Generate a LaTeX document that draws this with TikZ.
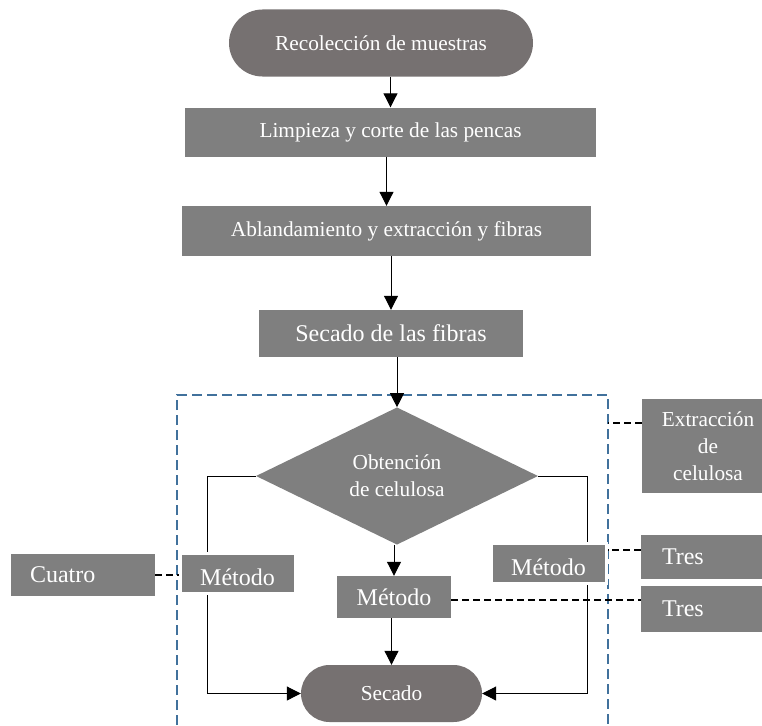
\documentclass[tikz,border=0pt]{standalone}
\usepackage{fontspec}
\setmainfont{Liberation Serif}
\usetikzlibrary{shapes.geometric,shapes.misc,arrows.meta,backgrounds}
\definecolor{boxgray}{HTML}{7F7F7F}
\definecolor{termgray}{HTML}{767171}
\definecolor{frameblue}{HTML}{41719C}
\newcommand\txtS{\fontsize{21.3}{27}\selectfont}
\newcommand\txtL{\fontsize{24}{28}\selectfont}
\tikzset{
  box/.style={rectangle,fill=boxgray,text=white,inner sep=0pt,font=\txtS},
  term/.style={rounded rectangle,fill=termgray,text=white,inner sep=0pt,font=\txtS},
  arr/.style={-{Triangle[length=14pt,width=14pt]},line width=1pt},
  dsh/.style={dash pattern=on 7pt off 4pt,line width=2pt},
}

\begin{document}
\begin{tikzpicture}[x=1pt,y=-1pt]
      \useasboundingbox (0,0) rectangle (762,725);
      \def \Steps {
        lim/390.5/132/411/49/Limpieza y corte de las pencas,
        abl/386.5/231/409/50/Ablandamiento y extracción y fibras}
      \def \Labels {
        fib/391/333.5/264/47/Secado de las fibras,
        met2/394/597/114/42/Método}
      \def \Sides {
        met1/237.5/573,
        met3/548.5/563}
      \def \Notes {
        cua/83/575/144/42/106/Cuatro,
        tres1/707.5/557/133/44/91/Tres,
        tres2/707.5/609/133/46/91/Tres}
      \def \Edges {
        rec/lim,
        lim/abl,
        abl/fib,
        fib/dia,
        dia/met2,
        met2/sec}

      \node[term,minimum width=304,minimum height=67] (rec) at (381,43) {Recolección de muestras};
      \node[term,minimum width=181,minimum height=57] (sec) at (391.5,693.5) {Secado};
      \node[diamond,fill=boxgray,text=white,inner sep=0pt,font=\txtS,align=center,
        minimum width=282,minimum height=134] (dia) at (397,476) {Obtención\\de celulosa};
      \node[box,align=center,minimum width=132,minimum height=94] (ext) at (708,446)
        {Extracción\\de\\celulosa};

      \foreach \id / \x / \y / \w / \h / \t in \Steps {
        \node[box,minimum width=\w,minimum height=\h] (\id) at (\x,\y) {\t};
      }
      \foreach \id / \x / \y / \w / \h / \t in \Labels {
        \node[box,font=\txtL,minimum width=\w,minimum height=\h] (\id) at (\x,\y) {\t};
      }
      \foreach \id / \x / \y in \Sides {
        \node[box,font=\txtL,draw=white,line width=3pt,minimum width=115,minimum height=40,
          text height=24pt,text depth=0pt] (\id) at (\x,\y) {Método};
      }
      \foreach \id / \x / \y / \w / \h / \tw / \t in \Notes {
        \node[box,font=\txtL,align=left,text width=\tw,minimum width=\w,minimum height=\h]
          (\id) at (\x,\y) {\t};
      }

      % frame and side branches
      \coordinate (fr1) at (177,725);
      \coordinate (fr2) at (177,395);
      \coordinate (fr3) at (608,395);
      \coordinate (fr4) at (608,725);
      \coordinate (lk) at (207,476);
      \coordinate (rk) at (587,476);
      \begin{pgfonlayer}{background}
        \draw[frameblue,line width=2.8pt,dash pattern=on 10pt off 5pt] (fr1) -- (fr2) -- (fr3) -- (fr4);
        \draw[arr] (dia.west) -- (lk) |- (sec.west);
        \draw[arr] (dia.east) -- (rk) |- (sec.east);
      \end{pgfonlayer}

      \foreach \a / \b in \Edges {
        \path[draw,arr] (\b.north |- \a.south) -- (\b.north);
      }

      \draw[dsh] (cua.east) -- (cua.east -| met1.west);
      \draw[dsh] ([yshift=23pt]ext.west) -- ([yshift=23pt]ext.west -| fr3);
      \draw[dsh] ([yshift=7pt]tres1.west) -- ([yshift=7pt]tres1.west -| met3.east);
      \draw[dsh] ([yshift=-3pt]met2.east) -- ([yshift=-3pt]met2.east -| tres2.west);
    \end{tikzpicture}
\end{document}
